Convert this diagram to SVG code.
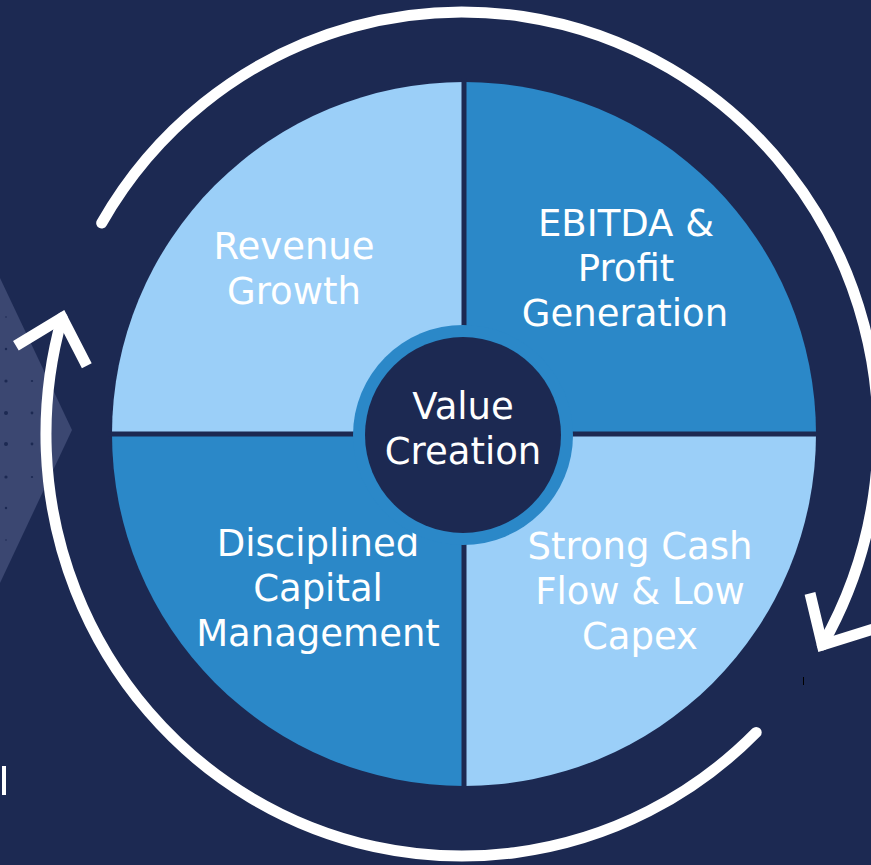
<svg xmlns="http://www.w3.org/2000/svg" width="871" height="865" viewBox="0 0 871 865">
  <style>
    .bg { fill: #1C2952; }
    .light { fill: #9BCFF8; }
    .mid { fill: #2B88C8; }
    .divider { stroke: #1C2952; stroke-width: 5; fill: none; }
    .label { fill: #FFFFFF; font-family: "DejaVu Sans", "Noto Sans", sans-serif; font-size: 37px; text-anchor: middle; }
    .arc { fill: none; stroke: #FFFFFF; stroke-width: 11; stroke-linecap: round; }
    .head { fill: none; stroke: #FFFFFF; stroke-width: 11; stroke-linecap: butt; stroke-linejoin: miter; }
    .dot { fill: #1C2952; }
  </style>

  <!-- backdrop -->
  <rect class="bg" x="0" y="0" width="871" height="865"/>

  <!-- decorative chevron with dot grid on the left edge -->
  <g id="decor">
    <polygon points="0,278 72,430 0,583" fill="#3B4771"/>
    <circle class="dot" cx="6" cy="317" r="0.8"/>
    <circle class="dot" cx="6" cy="349" r="1.2"/>
    <circle class="dot" cx="6" cy="381" r="1.6"/>
    <circle class="dot" cx="6" cy="413" r="2"/>
    <circle class="dot" cx="6" cy="444" r="2"/>
    <circle class="dot" cx="6" cy="477" r="1.6"/>
    <circle class="dot" cx="6" cy="508" r="1.2"/>
    <circle class="dot" cx="6" cy="540" r="0.8"/>
    <circle class="dot" cx="32" cy="381" r="1.1"/>
    <circle class="dot" cx="32" cy="413" r="1.4"/>
    <circle class="dot" cx="32" cy="444" r="1.4"/>
    <circle class="dot" cx="32" cy="477" r="1.1"/>
    <rect x="2" y="766" width="4" height="29" fill="#FFFFFF"/>
    <line x1="803.5" y1="677" x2="803.5" y2="685" stroke="#000000" stroke-width="1"/>
  </g>

  <!-- cycle arrows around the wheel -->
  <g id="connectors">
    <path class="arc" d="M101.7 223 A416 422 0 0 1 670 68.5 A416 422 0 0 1 822.3 645"/>
    <polyline class="head" points="810,593.4 822.3,645 872.9,629.2"/>
    <path class="arc" d="M756.2 732.4 A416 422 0 0 1 62.1 317.7"/>
    <polyline class="head" points="15.9,345.7 62.1,317.7 86.8,365.7"/>
  </g>

  <!-- quadrants -->
  <g id="revenue-growth">
    <path class="light" d="M464 434 L112 434 A352 352 0 0 1 464 82 Z"/>
    <text class="label" x="294" y="259">Revenue</text>
    <text class="label" x="294" y="304">Growth</text>
  </g>
  <g id="ebitda-profit">
    <path class="mid" d="M464 434 L464 82 A352 352 0 0 1 816 434 Z"/>
    <text class="label" x="626" y="236">EBITDA &amp;</text>
    <text class="label" x="626" y="281">Profit</text>
    <text class="label" x="625" y="326">Generation</text>
  </g>
  <g id="cash-flow">
    <path class="light" d="M464 434 L816 434 A352 352 0 0 1 464 786 Z"/>
    <text class="label" x="640" y="559">Strong Cash</text>
    <text class="label" x="640" y="604">Flow &amp; Low</text>
    <text class="label" x="640" y="649">Capex</text>
  </g>
  <g id="capital-management">
    <path class="mid" d="M464 434 L464 786 A352 352 0 0 1 112 434 Z"/>
    <text class="label" x="318" y="556">Disciplined</text>
    <text class="label" x="318" y="601">Capital</text>
    <text class="label" x="318" y="646">Management</text>
  </g>

  <!-- quadrant separators -->
  <g id="dividers">
    <line class="divider" x1="464" y1="78" x2="464" y2="790"/>
    <line class="divider" x1="108" y1="434" x2="820" y2="434"/>
  </g>

  <!-- hub -->
  <g id="value-creation">
    <circle class="mid" cx="463" cy="435" r="110"/>
    <circle class="bg" cx="463" cy="435" r="98"/>
    <text class="label" x="463" y="419">Value</text>
    <text class="label" x="463" y="464">Creation</text>
  </g>
</svg>
